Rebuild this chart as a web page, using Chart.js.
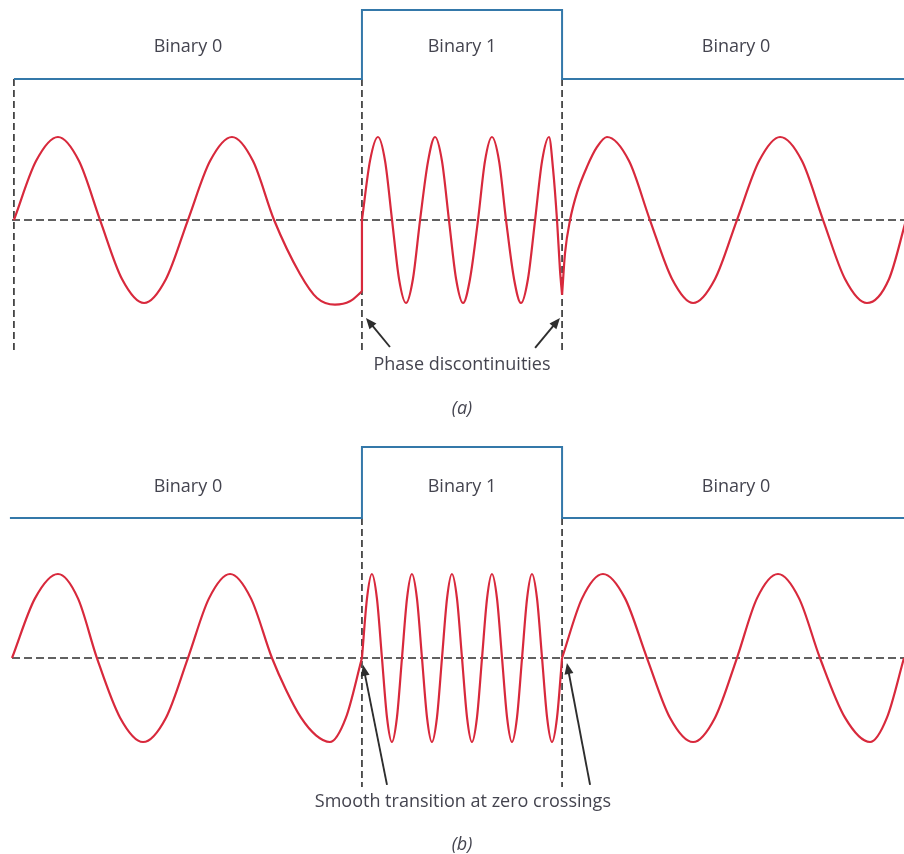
<!DOCTYPE html>
<html>
<head>
<meta charset="utf-8">
<script src="https://cdn.jsdelivr.net/npm/chart.js@4.4.1/dist/chart.umd.min.js"></script>
<style>
  html, body { margin: 0; padding: 0; background: #fff; }
  .panel { width: 904px; height: 427px; }
  canvas { display: block; }
</style>
</head>
<body>
<div class="panel"><canvas id="fskA" width="904" height="427"></canvas></div>
<div class="panel"><canvas id="fskB" width="904" height="427"></canvas></div>
<script>
// time axis: one Binary 0 bit = 200 units, amplitude normalised to 1
const bitLabels = ['Binary 0', 'Binary 1', 'Binary 0'];
const bitValues = [0, 1, 0];
const bitEdgesA = [0, 200, 315, 515];
const bitEdgesB = [-2.3, 200, 315, 515];

// (a) carrier, phase jumps at the bit edges
const aSpaceT = [0, 12.7, 25.3, 37.4, 49.5, 62.1, 74.8, 87.4, 100, 112.7, 125.3, 137.4, 149.5, 164.4, 174.2, 184.5, 193.1, 200];
const aSpaceV = [0, 0.71, 1, 0.71, 0, -0.71, -1, -0.71, 0, 0.71, 1, 0.71, 0, -0.65, -0.94, -1.02, -0.98, -0.86];
const aJumpT = [200, 200];
const aJumpV = [-0.86, 0];
const aMarkT = [200, 204.6, 209.2, 213.3, 217.3, 221.3, 225.3, 229.3, 233.4, 238.0, 242.0, 246.0, 250.0, 254.1, 258.1, 262.1,
                266.7, 270.7, 274.7, 278.8, 282.8, 287.4, 291.4, 295.4, 299.5, 303.5, 307.5, 309.8, 312.1, 313.8, 315];
const aMarkV = [0, 0.71, 1, 0.71, 0, -0.71, -1, -0.71, 0, 0.71, 1, 0.71, 0, -0.71, -1, -0.71,
                0, 0.71, 1, 0.71, 0, -0.71, -1, -0.71, 0, 0.71, 1, 0.62, 0, -0.6, -0.9];
const aRightT = [315, 316.7, 319.6, 323.6, 329.3, 335.1, 340.8, 353.5, 365.5, 378.2, 390.3, 402.9, 415.5, 428.2, 440.3, 452.9, 465.0, 477.6, 490.2, 502.9, 512.7];
const aRightV = [-0.9, -0.4, 0, 0.33, 0.64, 0.88, 1, 0.71, 0, -0.71, -1, -0.71, 0, 0.71, 1, 0.71, 0, -0.71, -1, -0.71, 0];

// (b) continuous-phase carrier
const bSpaceT = [-1.1, 12.1, 25.3, 36.8, 47.7, 61.0, 74.2, 87.4, 100.0, 112.1, 124.2, 136.2, 148.3, 156.4, 165.0, 173.6, 181.6, 190.8, 200];
const bSpaceV = [0, 0.71, 1, 0.71, 0, -0.71, -1, -0.71, 0, 0.71, 1, 0.71, 0, -0.38, -0.71, -0.92, -1, -0.71, 0];
const bMarkT = [200.0, 202.9, 205.7, 208.6, 211.5, 214.4, 217.2, 220.1, 223.0, 225.9, 228.7, 231.6, 234.5, 237.4, 240.2, 243.1,
                246.0, 248.9, 251.7, 254.6, 257.5, 260.4, 263.2, 266.1, 269.0, 271.9, 274.7, 277.6, 280.5, 283.4, 286.2, 289.1,
                292.0, 294.9, 297.7, 300.6, 303.5, 306.4, 309.2, 312.1, 315];
const bMarkV = [0, 0.71, 1, 0.71, 0, -0.71, -1, -0.71, 0, 0.71, 1, 0.71, 0, -0.71, -1, -0.71,
                0, 0.71, 1, 0.71, 0, -0.71, -1, -0.71, 0, 0.71, 1, 0.71, 0, -0.71, -1, -0.71,
                0, 0.71, 1, 0.71, 0, -0.71, -1, -0.71, 0];
const bRightT = [315, 326.5, 338.5, 351.2, 363.8, 377.0, 390.3, 402.9, 415.5, 427.0, 439.1, 451.2, 463.2, 477.6, 492.0, 501.7, 511.5];
const bRightV = [0, 0.71, 1, 0.71, 0, -0.71, -1, -0.71, 0, 0.71, 1, 0.71, 0, -0.71, -1, -0.71, 0];

const RED = '#d8293c';
const BLUE = '#3478a9';
const INK = '#2e2e2e';
const TEXT = '#44444f';

const toXY = (ts, vs) => ts.map((t, i) => ({ x: t, y: vs[i] }));

function bitLine(edges) {
    const pts = bitValues.map((b, i) => ({ x: edges[i], y: b }));
    pts.push({ x: edges[edges.length - 1], y: bitValues[bitValues.length - 1] });
    return pts;
}

function wave(data, straight) {
    return {
        data: data, borderColor: RED, borderWidth: 2.2, pointRadius: 0,
        cubicInterpolationMode: straight ? 'default' : 'monotone', tension: 0, order: 1
    };
}

function guide(data, axis) {
    return {
        data: data, yAxisID: axis, borderColor: INK, borderWidth: 1.6, borderDash: axis === 'y' ? [8, 4] : [7, 4],
        pointRadius: 0, tension: 0, order: 3
    };
}

// text + arrows, placed in data units through the chart scales
function figureText(labels, arrows) {
    return {
        id: 'figureText',
        afterDatasetsDraw(chart) {
            const { ctx, scales } = chart;
            ctx.save();
            arrows.forEach(a => {
                const x0 = scales.x.getPixelForValue(a.from[0]), y0 = scales.y.getPixelForValue(a.from[1]);
                const x1 = scales.x.getPixelForValue(a.to[0]), y1 = scales.y.getPixelForValue(a.to[1]);
                const ang = Math.atan2(y1 - y0, x1 - x0);
                const head = 11, half = 4.5;
                ctx.strokeStyle = INK;
                ctx.fillStyle = INK;
                ctx.lineWidth = 1.9;
                ctx.beginPath();
                ctx.moveTo(x0, y0);
                ctx.lineTo(x1 - Math.cos(ang) * head * 0.8, y1 - Math.sin(ang) * head * 0.8);
                ctx.stroke();
                ctx.beginPath();
                ctx.moveTo(x1, y1);
                ctx.lineTo(x1 - Math.cos(ang) * head - Math.sin(ang) * half, y1 - Math.sin(ang) * head + Math.cos(ang) * half);
                ctx.lineTo(x1 - Math.cos(ang) * head + Math.sin(ang) * half, y1 - Math.sin(ang) * head - Math.cos(ang) * half);
                ctx.closePath();
                ctx.fill();
            });
            ctx.fillStyle = TEXT;
            ctx.textAlign = 'center';
            ctx.textBaseline = 'middle';
            labels.forEach(l => {
                ctx.font = (l.italic ? 'italic ' : '') + '18px "Open Sans", sans-serif';
                ctx.fillText(l.text, scales.x.getPixelForValue(l.x), scales[l.axis].getPixelForValue(l.y));
            });
            ctx.restore();
        }
    };
}

function bitTexts(edges, level) {
    return bitLabels.map((txt, i) => ({
        text: txt, x: (Math.max(edges[i], 0) + edges[i + 1]) / 2, y: level, axis: 'yBit'
    }));
}

function makeChart(id, cfg) {
    return new Chart(document.getElementById(id), {
        type: 'line',
        data: { datasets: cfg.datasets },
        options: {
            responsive: false,
            animation: false,
            events: [],
            layout: { padding: 0 },
            plugins: { legend: { display: false }, tooltip: { enabled: false } },
            scales: {
                x: { type: 'linear', min: -8, max: 511.5, display: false },
                y: { type: 'linear', min: cfg.y[0], max: cfg.y[1], display: false },
                yBit: { type: 'linear', axis: 'y', min: cfg.bit[0], max: cfg.bit[1], display: false }
            }
        },
        plugins: [figureText(cfg.labels, cfg.arrows)]
    });
}

makeChart('fskA', {
    y: [-2.494, 2.651],
    bit: [-5.043, 1.145],
    datasets: [
        { data: bitLine(bitEdgesA), yAxisID: 'yBit', borderColor: BLUE, borderWidth: 2, stepped: true, pointRadius: 0, order: 2 },
        guide([{ x: -1.1, y: 0 }, { x: 511.5, y: 0 }], 'y'),
        guide([{ x: 0, y: 0 }, { x: 0, y: -3.93 }], 'yBit'),
        guide([{ x: 200, y: 0 }, { x: 200, y: -3.93 }], 'yBit'),
        guide([{ x: 315, y: 0 }, { x: 315, y: -3.93 }], 'yBit'),
        wave(toXY(aSpaceT, aSpaceV)),
        wave(toXY(aJumpT, aJumpV), true),
        wave(toXY(aMarkT, aMarkV)),
        wave(toXY(aRightT, aRightV))
    ],
    labels: bitTexts(bitEdgesA, 0.46).concat([
        { text: 'Phase discontinuities', x: 257.5, y: -1.75, axis: 'y' },
        { text: '(a)', x: 257.5, y: -2.27, axis: 'y', italic: true }
    ]),
    arrows: [
        { from: [216.1, -1.53], to: [202.3, -1.18] },
        { from: [299.5, -1.54], to: [313.8, -1.18] }
    ]
});

makeChart('fskB', {
    y: [-2.333, 2.75],
    bit: [-4.732, 1.282],
    datasets: [
        { data: bitLine(bitEdgesB), yAxisID: 'yBit', borderColor: BLUE, borderWidth: 2, stepped: true, pointRadius: 0, order: 2 },
        guide([{ x: -1.1, y: 0 }, { x: 511.5, y: 0 }], 'y'),
        guide([{ x: 200, y: 0 }, { x: 200, y: -3.79 }], 'yBit'),
        guide([{ x: 315, y: 0 }, { x: 315, y: -3.79 }], 'yBit'),
        wave(toXY(bSpaceT, bSpaceV)),
        wave(toXY(bMarkT, bMarkV)),
        wave(toXY(bRightT, bRightV))
    ],
    labels: bitTexts(bitEdgesB, 0.44).concat([
        { text: 'Smooth transition at zero crossings', x: 258, y: -1.71, axis: 'y' },
        { text: '(b)', x: 257.5, y: -2.23, axis: 'y', italic: true }
    ]),
    arrows: [
        { from: [214.4, -1.51], to: [200.6, -0.08] },
        { from: [331.1, -1.51], to: [317.8, -0.06] }
    ]
});
</script>
</body>
</html>
